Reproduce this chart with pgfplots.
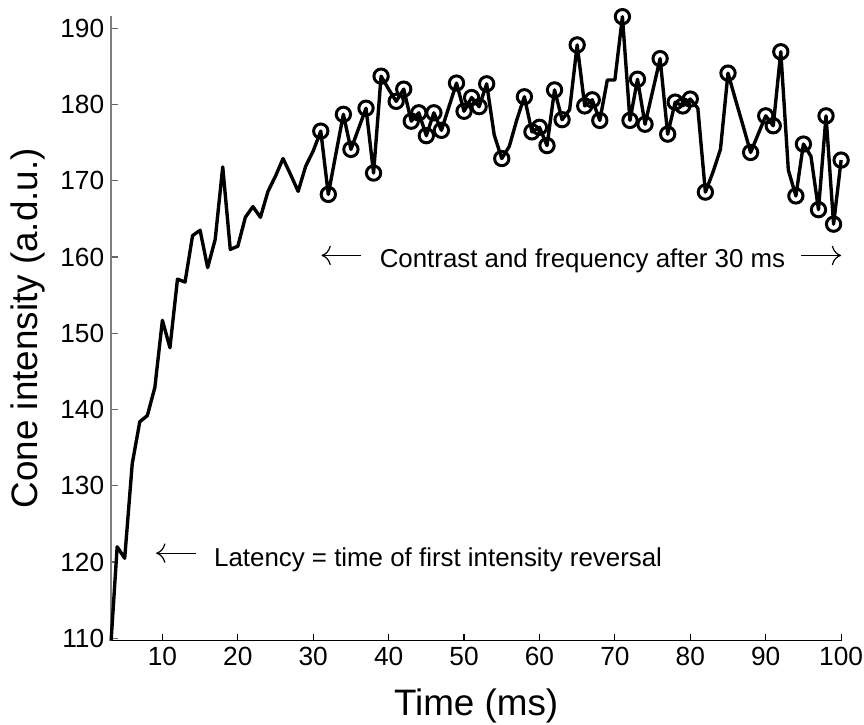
\documentclass[border=0pt]{standalone}
\usepackage{fontspec}
\setmainfont{Liberation Sans}
\usepackage{pgfplots}
\pgfplotsset{compat=1.18}
\usepackage{pgfplotstable}
\usetikzlibrary{arrows.meta}

\pgfplotstableread{
x y
3.2 109.7
4 122.0
5 120.5
6 132.9
7 138.4
8 139.2
9 142.9
10 151.7
11 148.1
12 157.1
13 156.7
14 162.8
15 163.5
16 158.6
17 162.3
18 171.8
19 161.0
20 161.4
21 165.2
22 166.6
23 165.2
24 168.6
25 170.6
26 172.9
27 170.8
28 168.6
29 171.9
30 173.9
31 176.5
32 168.2
33 173.5
34 178.7
35 174.1
36 176.8
37 179.5
38 171.0
39 183.7
40 182.0
41 180.4
42 182.0
43 177.8
44 178.9
45 175.9
46 178.9
47 176.6
48 179.7
49 182.8
50 179.1
51 180.9
52 179.7
53 182.7
54 176.0
55 172.9
56 174.5
57 178.0
58 181.0
59 176.4
60 177.0
61 174.6
62 181.9
63 178.0
64 179.3
65 187.8
66 179.8
67 180.6
68 177.9
69 183.2
70 183.2
71 191.5
72 177.9
73 183.3
74 177.4
75 181.7
76 186.0
77 176.1
78 180.3
79 179.8
80 180.7
81 179.5
82 168.5
83 171.1
84 174.1
85 184.1
86 180.6
87 177.2
88 173.7
89 176.1
90 178.5
91 177.2
92 186.9
93 171.4
94 168.0
95 174.8
96 173.2
97 166.2
98 178.5
99 164.3
100 172.7
}\datatable

\pgfplotstableread{
x y
31 176.5
32 168.2
34 178.7
35 174.1
37 179.5
38 171.0
39 183.7
41 180.4
42 182.0
43 177.8
44 178.9
45 175.9
46 178.9
47 176.6
49 182.8
50 179.1
51 180.9
52 179.7
53 182.7
55 172.9
58 181.0
59 176.4
60 177.0
61 174.6
62 181.9
63 178.0
65 187.8
66 179.8
67 180.6
68 177.9
71 191.5
72 177.9
73 183.3
74 177.4
76 186.0
77 176.1
78 180.3
79 179.8
80 180.7
82 168.5
85 184.1
88 173.7
90 178.5
91 177.2
92 186.9
94 168.0
95 174.8
97 166.2
98 178.5
99 164.3
100 172.7
}\marktable

\begin{document}
\begin{tikzpicture}
\path[use as bounding box] (-55.85pt,-42pt) rectangle (378.4pt,322pt);
\begin{axis}[
  at={(0,0)}, anchor=south west,
  scale only axis, width=366.9pt, height=314pt,
  xmin=3.2, xmax=100, ymin=109.7, ymax=191.6,
  axis x line=bottom, axis y line=left,
  x axis line style={-, black, line width=0.8pt},
  y axis line style={-, black!50, line width=0.8pt},
  tick align=inside, major tick length=3.3pt,
  xtick={10,20,...,100}, ytick={110,120,...,190},
  xtick style={black, line width=0.6pt},
  ytick style={black!60, line width=0.6pt},
  /pgf/number format/assume math mode=true,
  tick label style={font=\fontsize{13.2}{16}\selectfont, inner sep=0pt},
  xticklabel style={anchor=north, yshift=-3pt},
  yticklabel style={anchor=east, xshift=-3.3pt},
  xlabel={Time (ms)},
  ylabel={Cone intensity (a.d.u.)},
  xlabel style={at={(axis description cs:0.5,0)}, anchor=base, yshift=-37.75pt, font=\fontsize{18.5}{22}\selectfont, inner sep=0pt},
  ylabel style={at={(axis description cs:0,0.5)}, anchor=center, yshift=41.85pt, font=\fontsize{18.5}{22}\selectfont, inner sep=0pt},
  clip=false,
]
\addplot[black, line width=1.7pt, line join=round, mark=none] table[x=x,y=y] {\datatable};
\addplot[black, only marks, mark=o, mark size=3.6pt, mark options={line width=1.5pt}] table[x=x,y=y] {\marktable};

\draw[line width=0.6pt, {To[scale=1.6]}-] (axis cs:9.17,121.17) -- (axis cs:14.45,121.17);
\node[anchor=base west, inner sep=0pt, font=\fontsize{13}{15}\selectfont] at (axis cs:16.82,119.44) {Latency = time of first intensity reversal};

\draw[line width=0.6pt, {To[scale=1.6]}-] (axis cs:31.1,160.2) -- (axis cs:36.4,160.2);
\node[anchor=base west, inner sep=0pt, font=\fontsize{13}{15}\selectfont] at (axis cs:38.77,158.57) {Contrast and frequency after 30 ms};
\draw[line width=0.6pt, -{To[scale=1.6]}] (axis cs:94.7,160.2) -- (axis cs:100,160.2);
\end{axis}
\end{tikzpicture}
\end{document}
